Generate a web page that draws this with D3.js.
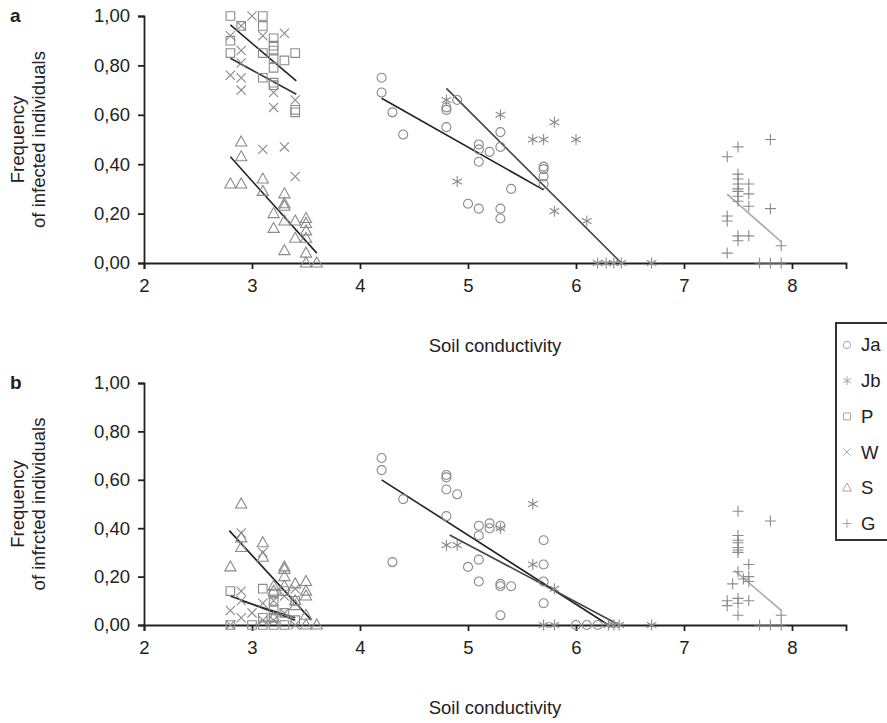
<!doctype html>
<html>
  <head>
    <meta charset="utf-8">
    <title>Soil conductivity</title>
    <script src="https://d3js.org/d3.v7.min.js"></script>
    <style>
      body { margin: 0; background: #fff; }
      svg text { font-family: "Liberation Sans", Arial, sans-serif; fill: #222; }
    </style>
  </head>
  <body>
  <script>
    // tick labels
    var xTicks = [2, 3, 4, 5, 6, 7, 8];
    var yTicks = [0, 0.2, 0.4, 0.6, 0.8, 1.0];
    var groups = ["Ja", "Jb", "P", "W", "S", "G"];

    // panel a : [soil conductivity, frequency]
    var aJa = [[4.2,0.75],[4.2,0.69],[4.3,0.61],[4.4,0.52],[4.8,0.63],[4.8,0.62],[4.8,0.55],[4.9,0.66],
      [5.1,0.48],[5.1,0.46],[5.2,0.45],[5.1,0.41],[5.3,0.53],[5.3,0.47],[5.0,0.24],[5.1,0.22],
      [5.3,0.22],[5.3,0.18],[5.4,0.30],[5.7,0.39],[5.7,0.38],[5.7,0.35],[5.7,0.32]];
    var aJb = [[4.8,0.66],[5.3,0.60],[5.8,0.57],[5.6,0.50],[5.7,0.50],[6.0,0.50],[4.9,0.33],[5.8,0.21],
      [6.1,0.17],[6.2,0],[6.28,0],[6.35,0],[6.42,0],[6.7,0]];
    var aP = [[2.8,1.0],[3.1,1.0],[2.9,0.96],[3.1,0.96],[2.8,0.90],[3.2,0.91],[3.2,0.88],[3.2,0.86],
      [2.8,0.85],[3.1,0.85],[3.2,0.83],[3.3,0.82],[3.4,0.85],[3.2,0.79],[3.1,0.75],[3.2,0.72],
      [3.2,0.73],[3.4,0.61],[3.4,0.62]];
    var aW = [[3.0,1.0],[2.9,0.96],[2.8,0.92],[3.1,0.92],[3.3,0.93],[2.9,0.86],[2.9,0.81],[2.8,0.76],
      [2.9,0.75],[2.9,0.70],[3.2,0.69],[3.2,0.63],[3.4,0.66],[3.1,0.46],[3.3,0.47],[3.4,0.35]];
    var aS = [[2.9,0.49],[2.9,0.43],[2.8,0.32],[2.9,0.32],[3.1,0.34],[3.1,0.29],[3.3,0.28],[3.3,0.24],
      [3.3,0.23],[3.2,0.20],[3.2,0.14],[3.3,0.17],[3.4,0.17],[3.5,0.18],[3.5,0.16],[3.5,0.13],
      [3.4,0.10],[3.5,0.10],[3.3,0.05],[3.5,0.04],[3.5,0.0],[3.6,0.0]];
    var aG = [[7.8,0.50],[7.5,0.47],[7.4,0.43],[7.5,0.36],[7.5,0.34],[7.5,0.32],[7.5,0.30],[7.5,0.29],
      [7.5,0.27],[7.5,0.25],[7.6,0.32],[7.6,0.28],[7.6,0.23],[7.8,0.22],[7.4,0.19],[7.4,0.17],
      [7.5,0.11],[7.5,0.09],[7.6,0.11],[7.9,0.07],[7.4,0.04],[7.7,0],[7.8,0],[7.9,0]];

    // panel b
    var bJa = [[4.2,0.69],[4.2,0.64],[4.4,0.52],[4.3,0.26],[4.8,0.62],[4.8,0.61],[4.8,0.56],[4.9,0.54],
      [4.8,0.45],[5.1,0.41],[5.2,0.42],[5.2,0.40],[5.3,0.41],[5.1,0.37],[5.7,0.35],[5.1,0.27],
      [5.0,0.24],[5.7,0.25],[5.1,0.18],[5.3,0.17],[5.3,0.16],[5.4,0.16],[5.7,0.18],[5.7,0.09],
      [5.3,0.04],[6.0,0],[6.1,0],[6.2,0]];
    var bJb = [[5.6,0.50],[5.3,0.40],[4.8,0.33],[4.9,0.33],[5.6,0.25],[5.8,0.15],[5.7,0],[5.8,0],
      [6.3,0],[6.35,0],[6.4,0],[6.7,0]];
    var bP = [[2.8,0.14],[2.8,0.0],[3.0,0.0],[3.1,0.15],[3.1,0.03],[3.1,0.0],[3.2,0.13],[3.2,0.10],
      [3.2,0.06],[3.2,0.03],[3.2,0.0],[3.3,0.14],[3.3,0.05],[3.3,0.0],[3.4,0.10],[3.4,0.02]];
    var bW = [[2.9,0.38],[3.1,0.30],[2.8,0.06],[2.8,0.0],[2.9,0.14],[2.9,0.10],[2.9,0.03],[3.0,0.05],
      [3.1,0.09],[3.1,0.02],[3.2,0.10],[3.2,0.02],[3.3,0.05],[3.3,0.12],[3.4,0.15],[3.4,0.0]];
    var bS = [[2.9,0.50],[2.9,0.36],[2.9,0.32],[3.1,0.34],[3.1,0.28],[2.8,0.24],[3.3,0.24],[3.3,0.23],
      [3.4,0.17],[3.5,0.18],[3.2,0.16],[3.3,0.20],[3.3,0.16],[3.2,0.14],[3.5,0.14],[3.5,0.12],
      [3.4,0.10],[3.4,0.08],[3.2,0.03],[3.5,0.04],[3.5,0.0],[3.6,0.0]];
    var bG = [[7.5,0.47],[7.8,0.43],[7.5,0.37],[7.5,0.35],[7.5,0.34],[7.5,0.32],[7.5,0.31],[7.5,0.30],
      [7.6,0.25],[7.5,0.22],[7.6,0.20],[7.45,0.17],[7.55,0.19],[7.6,0.18],[7.4,0.10],[7.5,0.11],
      [7.4,0.08],[7.5,0.09],[7.6,0.10],[7.5,0.04],[7.7,0],[7.8,0],[7.9,0.04],[7.9,0.0]];

    // fitted lines: [x0, y0, x1, y1]
    var aFits = {P: [2.8,0.964,3.41,0.737], W: [2.8,0.829,3.41,0.683], S: [2.8,0.43,3.6,0.04],
      Ja: [4.2,0.667,5.7,0.296], Jb: [4.8,0.707,6.42,0.0], G: [7.4,0.279,7.9,0.086]};
    var bFits = {P: [2.8,0.12,3.4,0.02], W: [2.9,0.10,3.4,0.03], S: [2.79,0.39,3.55,0.02],
      Ja: [4.2,0.60,6.3,0.0], Jb: [4.83,0.372,6.4,0.0], G: [7.47,0.225,7.9,0.06]};

    var fitColor = {P: "#222", W: "#333", S: "#222", Ja: "#222", Jb: "#444", G: "#aaa"};

    var width = 887, height = 723;
    var svg = d3.select("body").append("svg").attr("width", width).attr("height", height);

    var x = d3.scaleLinear().domain([2, 8.5]).range([144, 846]);

    // marker paths, drawn as outlines
    function marker(type){
      var r = 4.5;
      switch(type){
        case "Ja": return d3.symbol(d3.symbolCircle, Math.PI * r * r)();
        case "Jb": return "M0,-5.5L0,5.5M-4.8,-2.8L4.8,2.8M-4.8,2.8L4.8,-2.8";
        case "P": return "M-4.3,-4.3H4.3V4.3H-4.3Z";
        case "W": return "M-4.6,-4.6L4.6,4.6M-4.6,4.6L4.6,-4.6";
        case "S": return "M0,-6L5.6,4L-5.6,4Z";
        case "G": return "M0,-5.5V5.5M-5.5,0H5.5";
      }
    }

    function panel(opts){
      var y = d3.scaleLinear().domain([0, 1]).range([opts.bottom, opts.top]);
      var g = svg.append("g");

      var xAxis = d3.axisBottom(x).tickValues(xTicks).tickSize(6).tickPadding(10)
        .tickFormat(d3.format("d"));
      var yAxis = d3.axisLeft(y).tickValues(yTicks).tickSize(6).tickPadding(8)
        .tickFormat(function(d){ return d3.format(".2f")(d).replace(".", ","); });

      g.append("g").attr("transform", "translate(0," + opts.bottom + ")").call(xAxis)
        .call(styleAxis);
      g.append("g").attr("transform", "translate(" + x(2) + ",0)").call(yAxis)
        .call(styleAxis);

      // fitted lines
      Object.keys(opts.fits).forEach(function(k){
        var f = opts.fits[k];
        g.append("line")
          .attr("x1", x(f[0])).attr("y1", y(f[1]))
          .attr("x2", x(f[2])).attr("y2", y(f[3]))
          .attr("stroke", fitColor[k]).attr("stroke-width", 1.6);
      });

      // points
      groups.forEach(function(k){
        g.selectAll(".pt-" + k)
          .data(opts.series[k])
          .enter().append("path")
          .attr("class", "pt-" + k)
          .attr("d", marker(k))
          .attr("transform", function(d){ return "translate(" + x(d[0]) + "," + y(d[1]) + ")"; })
          .attr("fill", "none")
          .attr("stroke", "#8a8a8a")
          .attr("stroke-width", 1.1);
      });

      g.append("text").attr("x", 10).attr("y", opts.top + 6)
        .attr("font-size", 19).attr("font-weight", "bold").text(opts.label);

      var cy = (opts.top + opts.bottom) / 2;
      var yt = g.append("text").attr("transform", "translate(24," + cy + ") rotate(-90)")
        .attr("text-anchor", "middle").attr("font-size", 18.5);
      yt.append("tspan").attr("x", 0).attr("dy", 0).text("Frequency");
      yt.append("tspan").attr("x", 0).attr("dy", 21).text(opts.ytitle);

      g.append("text").attr("x", (x(2) + x(8.5)) / 2).attr("y", opts.bottom + 89)
        .attr("text-anchor", "middle").attr("font-size", 18.5).text("Soil conductivity");
    }

    function styleAxis(sel){
      sel.selectAll(".domain").attr("stroke", "#222").attr("stroke-width", 1.8);
      sel.selectAll(".tick line").attr("stroke", "#222").attr("stroke-width", 1.8);
      sel.selectAll(".tick text").attr("font-size", 18.5)
        .attr("font-family", "'Liberation Sans', Arial, sans-serif").attr("fill", "#222");
    }

    panel({top: 16, bottom: 263, label: "a", ytitle: "of infected individuals", fits: aFits,
      series: {Ja: aJa, Jb: aJb, P: aP, W: aW, S: aS, G: aG}});
    panel({top: 383, bottom: 625, label: "b", ytitle: "of infrcted individuals", fits: bFits,
      series: {Ja: bJa, Jb: bJb, P: bP, W: bW, S: bS, G: bG}});

    // legend
    var lg = svg.append("g");
    lg.append("rect").attr("x", 836).attr("y", 323).attr("width", 80).attr("height", 217)
      .attr("fill", "#fff").attr("stroke", "#333").attr("stroke-width", 2);
    var item = lg.selectAll(".item").data(groups).enter().append("g")
      .attr("transform", function(d, i){ return "translate(847," + (345 + i * 35.7) + ")"; });
    item.append("path")
      .attr("d", function(d){ return marker(d); })
      .attr("transform", "scale(0.8)")
      .attr("fill", "none").attr("stroke", "#999").attr("stroke-width", 1.1);
    item.append("text").attr("x", 14).attr("dy", "0.35em").attr("font-size", 18.5)
      .text(function(d){ return d; });
  </script>
  </body>
</html>
